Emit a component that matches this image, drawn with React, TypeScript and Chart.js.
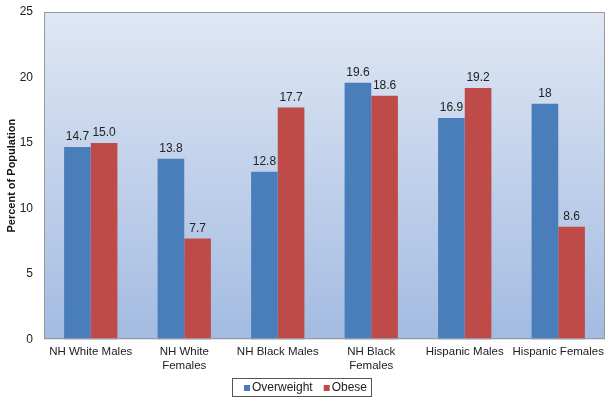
import React, { useEffect, useRef } from "react";
import { Chart, registerables } from "chart.js";

Chart.register(...registerables);

const categories: (string | string[])[] = [
  "NH White Males",
  ["NH White", "Females"],
  "NH Black Males",
  ["NH Black", "Females"],
  "Hispanic Males",
  "Hispanic Females",
];
const overweight = [14.7, 13.8, 12.8, 19.6, 16.9, 18];
const obese = [15.0, 7.7, 17.7, 18.6, 19.2, 8.6];
const overweightLabels = ["14.7", "13.8", "12.8", "19.6", "16.9", "18"];
const obeseLabels = ["15.0", "7.7", "17.7", "18.6", "19.2", "8.6"];
const seriesNames = ["Overweight", "Obese"];
const seriesColors = ["#4a7ebb", "#be4b48"];
const yTicks = [0, 5, 10, 15, 20, 25];

const FONT = "'Liberation Sans', Arial, Helvetica, sans-serif";

export default function App() {
  const ref = useRef<HTMLCanvasElement | null>(null);

  useEffect(() => {
    document.body.style.margin = "0";
    const canvas = ref.current;
    if (!canvas) return;

    const bgPlugin = {
      id: "plotBg",
      beforeDraw(chart: any) {
        const { ctx, chartArea } = chart;
        if (!chartArea) return;
        const g = ctx.createLinearGradient(0, chartArea.top, 0, chartArea.bottom);
        g.addColorStop(0, "#dfe7f4");
        g.addColorStop(1, "#a3bbe1");
        ctx.save();
        ctx.fillStyle = g;
        ctx.fillRect(chartArea.left, chartArea.top, chartArea.right - chartArea.left, chartArea.bottom - chartArea.top);
        ctx.restore();
      },
      afterDraw(chart: any) {
        const { ctx, chartArea, width, height } = chart;
        ctx.save();
        ctx.strokeStyle = "#9a9a9a";
        ctx.lineWidth = 1;
        ctx.strokeRect(
          Math.round(chartArea.left) + 0.5,
          Math.round(chartArea.top) + 0.5,
          Math.round(chartArea.right - chartArea.left) - 1,
          Math.round(chartArea.bottom - chartArea.top) - 1
        );
        // custom legend with frame
        ctx.font = `12px ${FONT}`;
        ctx.textBaseline = "middle";
        ctx.textAlign = "left";
        const marker = 6;
        const gapText = 2;
        const gapItem = 11;
        const padL = 12;
        const padR = 4;
        const widths = seriesNames.map((n) => ctx.measureText(n).width);
        let total = padL + padR;
        widths.forEach((w, i) => {
          total += marker + gapText + w + (i < widths.length - 1 ? gapItem : 0);
        });
        const boxH = 18;
        const left = Math.round(width / 2 - 5 - total / 2);
        const top = height - 26;
        ctx.strokeStyle = "#555";
        ctx.strokeRect(left + 0.5, top + 0.5, Math.round(total), boxH);
        let x = left + padL;
        const cy = top + boxH / 2 + 0.5;
        seriesNames.forEach((n, i) => {
          ctx.fillStyle = seriesColors[i];
          ctx.fillRect(x, Math.round(cy - marker / 2), marker, marker);
          x += marker + gapText;
          ctx.fillStyle = "#222";
          ctx.fillText(n, x, cy);
          x += widths[i] + gapItem;
        });
        ctx.restore();
      },
    };

    const labelPlugin = {
      id: "valueLabels",
      afterDatasetsDraw(chart: any) {
        const { ctx } = chart;
        const texts = [overweightLabels, obeseLabels];
        ctx.save();
        ctx.font = `12px ${FONT}`;
        ctx.fillStyle = "#222";
        ctx.textAlign = "center";
        ctx.textBaseline = "bottom";
        chart.data.datasets.forEach((_: any, di: number) => {
          const meta = chart.getDatasetMeta(di);
          meta.data.forEach((el: any, i: number) => {
            ctx.fillText(texts[di][i], el.x, el.y - 4);
          });
        });
        ctx.restore();
      },
    };

    const chart = new Chart(canvas, {
      type: "bar",
      data: {
        labels: categories,
        datasets: [
          {
            label: seriesNames[0],
            data: overweight,
            backgroundColor: seriesColors[0],
            borderWidth: 0,
          },
          {
            label: seriesNames[1],
            data: obese,
            backgroundColor: seriesColors[1],
            borderWidth: 0,
          },
        ],
      },
      options: {
        responsive: false,
        animation: false,
        devicePixelRatio: 1,
        layout: { padding: { top: 12, right: 9, left: 0, bottom: 25 } },
        datasets: {
          bar: { categoryPercentage: 0.57, barPercentage: 1 },
        },
        plugins: {
          legend: { display: false },
          tooltip: { enabled: false },
          title: { display: false },
        },
        scales: {
          x: {
            grid: { display: false, drawTicks: false },
            border: { display: false },
            ticks: {
              color: "#222",
              font: { family: FONT, size: 11.5 },
              maxRotation: 0,
              autoSkip: false,
              padding: 6,
            },
          },
          y: {
            min: 0,
            max: 25,
            afterBuildTicks(scale: any) {
              scale.ticks = yTicks.map((v) => ({ value: v }));
            },
            afterFit(scale: any) {
              scale.width = 44;
              scale.paddingTop = 0;
              scale.paddingBottom = 0;
            },
            grid: { display: false, drawTicks: false },
            border: { display: false },
            ticks: {
              color: "#222",
              font: { family: FONT, size: 12 },
              padding: 11,
            },
            title: {
              display: true,
              text: "Percent of Population",
              color: "#111",
              font: { family: FONT, size: 11, weight: "bold" },
              padding: { top: 5, bottom: 0 },
            },
          },
        },
      },
      plugins: [bgPlugin, labelPlugin],
    });

    return () => chart.destroy();
  }, []);

  return (
    <div style={{ width: 614, height: 404 }}>
      <canvas ref={ref} width={614} height={404} />
    </div>
  );
}
